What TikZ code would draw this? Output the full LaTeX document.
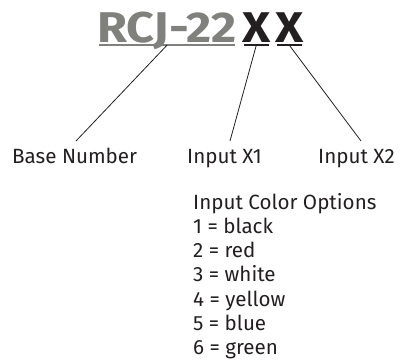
\documentclass[tikz,border=0pt]{standalone}
\usepackage{fontspec}
\setmainfont{Fira Sans}
\usepackage{xcolor}
\usepackage{graphicx}
\definecolor{Col1}{RGB}{128,129,125}
\definecolor{Col2}{RGB}{35,31,32}
\usepackage{tikz}
\newcommand{\Wide}[1]{\scalebox{1.13}[1]{#1}}
\tikzstyle{Title}=[anchor=base west,inner xsep=0pt,inner ysep=3pt,
text depth=0pt,font=\fontsize{43}{43}\selectfont\bfseries,text=Col1]
\tikzstyle{TitleX}=[Title,text=Col2]
\tikzstyle{Bar}=[draw=Col1,line width=2pt,shorten <=1.5pt,shorten >=2pt]
\tikzstyle{BarX}=[Bar,draw=Col2]
\tikzstyle{Edge}=[draw=Col2,line width=.8pt]
\tikzstyle{NodeST}=[anchor=base west,inner sep=0pt,text=Col2,
font=\fontsize{20.6}{24}\selectfont]

\begin{document}
\begin{tikzpicture}[x=1pt,y=-1pt]
        \useasboundingbox(0,0)rectangle(400,362);
        \node[Title](rcj)at(97.00,42.00){\Wide{RCJ-22}};
        \node[TitleX](x1)at(242.00,42.00){\Wide{X}};
        \node[TitleX](x2)at(275.00,42.00){\Wide{X}};
        \draw[Bar](rcj.south west)--(rcj.south east);
        \draw[BarX](x1.south west)--(x1.south east);
        \draw[BarX](x2.south west)--(x2.south east);
        \node[NodeST](base)at(12.00,163.00){Base Number};
        \node[NodeST](in1)at(187.00,163.00){Input X1};
        \node[NodeST](in2)at(318.00,163.00){Input X2};
        \coordinate(e0)at(76.00,141.00);
        \coordinate(e1)at(230.00,141.00);
        \coordinate(e2)at(361.00,141.00);
        \draw[Edge](rcj.south)--(e0);
        \draw[Edge](x1.south)--(e1);
        \draw[Edge](x2.south)--(e2);
        \node[NodeST](opt)at(193.00,209.00){Input Color Options};
        \node[NodeST](1)at(193.00,233.00){1 = black};
        \node[NodeST](2)at(193.00,257.00){2 = red};
        \node[NodeST](3)at(193.00,281.00){3 = white};
        \node[NodeST](4)at(193.00,306.00){4 = yellow};
        \node[NodeST](5)at(193.00,330.00){5 = blue};
        \node[NodeST](6)at(193.00,354.00){6 = green};
    \end{tikzpicture}
\end{document}
